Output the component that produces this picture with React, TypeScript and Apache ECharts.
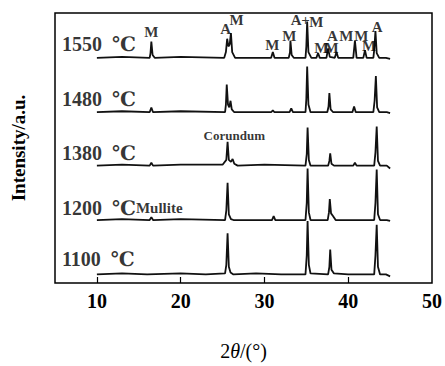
import React, { useEffect, useRef } from "react";
import * as echarts from "echarts";

// 2θ (deg) vs intensity offset above each pattern's own baseline (a.u.)
const temps = ["1100", "1200", "1380", "1480", "1550"];
const baselines = [9, 66, 123, 179, 236];

const p1100: number[][] = [
  [10, 0], [13, 1], [16, 0], [20, 1], [23, 0], [25.3, 1], [25.45, 10], [25.6, 43], [25.75, 8], [25.95, 2], [26.3, 0],
  [29, 1], [32, 0], [34.9, 0], [35.05, 20], [35.15, 56], [35.3, 10], [35.5, 1], [37.6, 0], [37.75, 8], [37.85, 26],
  [38.0, 5], [38.3, 1], [40, 0], [43.1, 0], [43.25, 20], [43.4, 52], [43.55, 8], [43.8, 0], [44.5, 0], [45, -2],
];
const p1200: number[][] = [
  [10, 0], [13, 1], [16.3, 0], [16.5, 3], [16.7, 0], [20, 1], [25.3, 0], [25.45, 10], [25.6, 39], [25.75, 6],
  [26.0, 1], [26.3, 0], [30.9, 0], [31.1, 4], [31.3, 0], [34.9, 0], [35.05, 18], [35.15, 54], [35.3, 8], [35.5, 0],
  [37.55, 0], [37.7, 8], [37.8, 22], [37.95, 7], [38.2, 4], [38.5, 0], [43.1, 0], [43.25, 18], [43.4, 53],
  [43.55, 6], [43.8, 0], [44.6, 0], [45, -1],
];
const p1380: number[][] = [
  [10, 0], [13, 1], [16.3, 0], [16.5, 3], [16.7, 0], [20, 1], [25.0, 1], [25.45, 6], [25.6, 25], [25.75, 6],
  [26.0, 4], [26.2, 7], [26.4, 2], [26.8, 0], [30, 1], [34.9, 0], [35.05, 12], [35.15, 40], [35.3, 6], [35.5, 0],
  [37.6, 0], [37.75, 5], [37.85, 13], [38.0, 2], [38.3, 0], [40.6, 0], [40.8, 3], [41.0, 0], [43.1, 0],
  [43.25, 14], [43.4, 41], [43.55, 5], [43.8, 0], [44.6, 0], [45, -3],
];
const p1480: number[][] = [
  [10, 0], [13, 1], [16.3, 0], [16.5, 5], [16.7, 0], [20, 1], [25.3, 0], [25.4, 8], [25.5, 29], [25.65, 8],
  [25.8, 5], [25.95, 12], [26.1, 3], [26.4, 0], [30.8, 0], [31.0, 2], [31.2, 0], [33.0, 0], [33.2, 4], [33.4, 0],
  [34.9, 0], [35.0, 14], [35.1, 48], [35.25, 8], [35.5, 0], [37.5, 0], [37.65, 6], [37.75, 20], [37.9, 3],
  [38.2, 0], [40.5, 0], [40.7, 6], [40.9, 0], [43.0, 0], [43.15, 12], [43.3, 38], [43.45, 5], [43.7, 0],
  [44.6, 0], [45, -1],
];
const p1550: number[][] = [
  [10, 0], [13, 1], [16.3, 0], [16.4, 5], [16.5, 17], [16.65, 3], [16.9, 0], [20, 1], [25.2, 0], [25.4, 6],
  [25.55, 20], [25.7, 12], [25.85, 14], [26.0, 26], [26.15, 6], [26.5, 0], [30.8, 0], [31.0, 6], [31.2, 0],
  [32.9, 0], [33.05, 6], [33.1, 18], [33.25, 3], [33.5, 0], [34.9, 0], [35.0, 12], [35.1, 38], [35.25, 6],
  [35.6, 0], [36.2, 0], [36.4, 5], [36.6, 0], [37.4, 0], [37.6, 10], [37.8, 1], [38.4, 0], [38.6, 6], [38.8, 0],
  [40.6, 0], [40.8, 18], [41.0, 0], [41.8, 0], [42.0, 8], [42.2, 0], [43.0, 0], [43.1, 8], [43.25, 28],
  [43.4, 5], [43.7, 0], [44.5, 0], [45, -1],
];
const patterns = [p1100, p1200, p1380, p1480, p1550];

// phase markers on the 1550 pattern: [2θ, height in plot units, text]
const phaseLabels: [number, number, string][] = [
  [16.5, 263, "M"], [25.36, 266, "A"], [26.67, 276, "M"], [30.95, 249, "M"], [32.98, 259, "M"],
  [33.8, 276, "A"], [34.9, 276, "+"], [36.2, 274, "M"], [36.8, 246, "M"], [38.0, 246, "M"],
  [38.1, 259, "A"], [39.76, 259, "M"], [41.55, 259, "M"], [42.5, 248, "M"], [43.45, 268, "A"],
];
// temperature labels: [2θ of left edge, height, temperature, extra phase word]
const tempLabels: [number, number, string, string][] = [
  [5.83, 25, "1100  ℃", ""], [5.83, 79, "1200  ℃", "Mullite"], [5.83, 136, "1380  ℃", ""],
  [5.83, 193, "1480  ℃", ""], [5.83, 250, "1550  ℃", ""],
];
const corundumLabel: [number, number, string] = [26.4, 155, "Corundum"];

const xTicks = [10, 20, 30, 40];
const xLabels = [10, 20, 30, 40, 50];

const SERIF = "'Liberation Serif', 'Times New Roman', 'DejaVu Serif', serif";

export default function App() {
  const ref = useRef<HTMLDivElement>(null);
  useEffect(() => {
    document.body.style.margin = "0";
    if (!ref.current) return;
    const chart = echarts.init(ref.current, null, { renderer: "svg" });
    const lineSeries = patterns.map((p, i) => ({
      type: "line",
      name: temps[i],
      data: p.map(([x, y]) => [x, y + baselines[i]]),
      showSymbol: false,
      symbol: "none",
      lineStyle: { color: "#111", width: 1.8 },
      z: 2,
    }));
    const labelStyle = (size: number, align: string) => ({
      show: true,
      position: "inside",
      formatter: (p: any) => p.name,
      color: "#000",
      fontFamily: SERIF,
      fontWeight: "bold",
      fontSize: size,
      align,
      verticalAlign: "middle",
    });
    chart.setOption({
      animation: false,
      grid: {
        left: 55, right: 13, top: 13, bottom: 70,
        show: true, borderColor: "#000", borderWidth: 1.5, backgroundColor: "transparent",
      },
      xAxis: {
        type: "value",
        min: 5,
        max: 50,
        name: "{n|2}{i|θ}{n|/(°)}",
        nameLocation: "middle",
        nameGap: 58,
        nameTextStyle: {
          rich: {
            n: { fontFamily: SERIF, fontSize: 20, color: "#000" },
            i: { fontFamily: SERIF, fontSize: 20, fontStyle: "italic", color: "#000" },
          },
        },
        axisLine: { show: false },
        axisTick: { show: true, inside: true, length: 6, customValues: xTicks, lineStyle: { color: "#000", width: 1.2 } },
        axisLabel: { customValues: xLabels, color: "#000", fontFamily: SERIF, fontWeight: "bold", fontSize: 20, margin: 8 },
        splitLine: { show: false },
      },
      yAxis: {
        type: "value",
        min: 0,
        max: 283,
        name: "Intensity/a.u.",
        nameLocation: "middle",
        nameGap: 27,
        nameTextStyle: { fontFamily: SERIF, fontSize: 19, fontWeight: "bold", color: "#000" },
        axisLine: { show: false },
        axisTick: { show: false },
        axisLabel: { show: false },
        splitLine: { show: false },
      },
      series: [
        ...lineSeries,
        {
          type: "scatter",
          symbolSize: 0,
          data: phaseLabels.map(([x, y, t]) => ({ value: [x, y], name: t })),
          label: labelStyle(15, "center"),
          z: 3,
        },
        {
          type: "scatter",
          symbolSize: 0,
          data: tempLabels.map(([x, y, t, w]) => ({ value: [x, y], name: t + "\u0000" + w })),
          label: {
            ...labelStyle(20, "left"),
            formatter: (p: any) => {
              const [t, w] = String(p.name).split("\u0000");
              return w ? `{t|${t}}{w|${w}}` : `{t|${t}}`;
            },
            rich: {
              t: { fontFamily: SERIF, fontWeight: "bold", fontSize: 20, color: "#000" },
              w: { fontFamily: SERIF, fontWeight: "bold", fontSize: 15, color: "#000" },
            },
          },
          z: 3,
        },
        {
          type: "scatter",
          symbolSize: 0,
          data: [{ value: [corundumLabel[0], corundumLabel[1]], name: corundumLabel[2] }],
          label: labelStyle(13, "center"),
          z: 3,
        },
      ],
    });
    return () => chart.dispose();
  }, []);
  return <div ref={ref} style={{ width: 445, height: 366 }} />;
}
